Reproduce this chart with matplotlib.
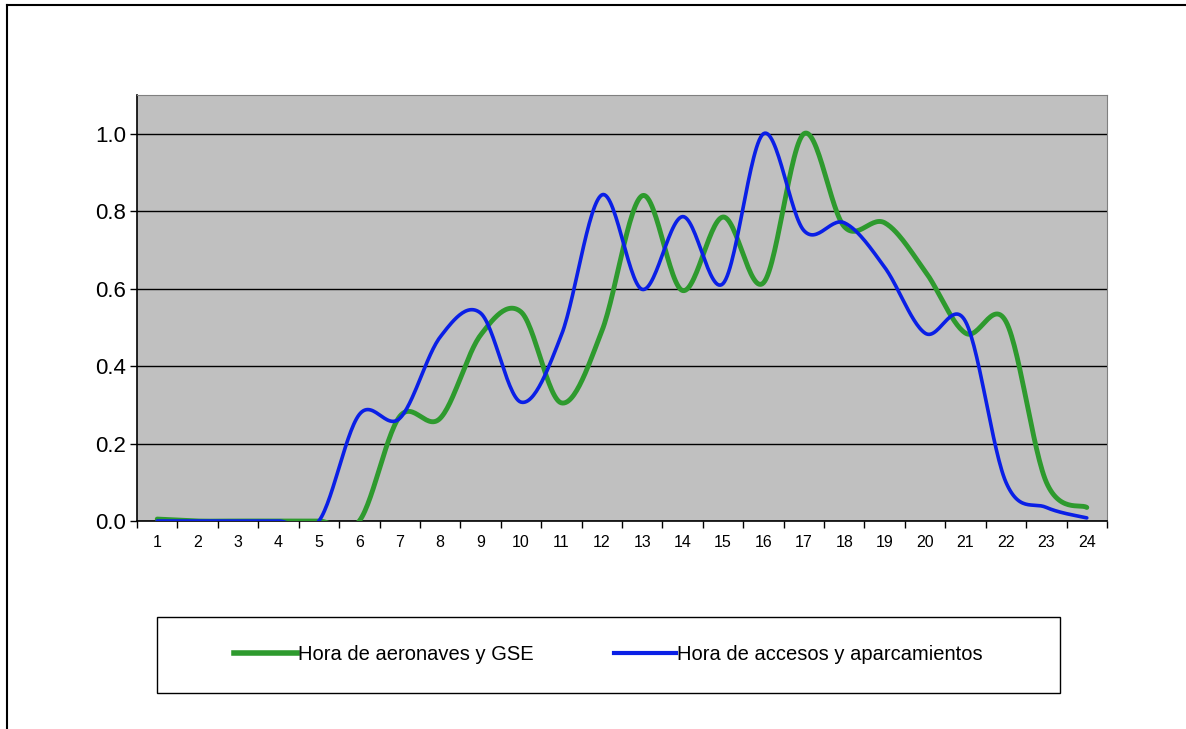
# -*- coding: utf-8 -*-

import numpy as np
import matplotlib.pyplot as plt
from matplotlib.lines import Line2D

# datos
horas = list(range(1, 25))
aeronaves = [0.005, 0.0, 0.0, 0.0, 0.0, 0.0, 0.27, 0.265, 0.48, 0.54, 0.305, 0.49,
             0.84, 0.595, 0.785, 0.615, 1.0, 0.76, 0.77, 0.645, 0.485, 0.515, 0.1, 0.035]
accesos = [0.0, 0.0, 0.0, 0.0, 0.0, 0.275, 0.265, 0.475, 0.537, 0.307, 0.48, 0.842,
           0.598, 0.786, 0.613, 1.0, 0.75, 0.77, 0.655, 0.485, 0.515, 0.1, 0.035, 0.008]
lab_aer = 'Hora de aeronaves y GSE'
lab_acc = 'Hora de accesos y aparcamientos'


def suavizar(x, y, n=30):
    # curva suavizada tipo excel (bezier con tangentes catmull-rom)
    x = np.asarray(x, dtype=float)
    y = np.asarray(y, dtype=float)
    px = np.concatenate([[x[0]], x, [x[-1]]])
    py = np.concatenate([[y[0]], y, [y[-1]]])
    xs, ys = [], []
    t = np.linspace(0, 1, n)
    for i in range(1, len(px) - 2):
        p0 = np.array([px[i - 1], py[i - 1]])
        p1 = np.array([px[i], py[i]])
        p2 = np.array([px[i + 1], py[i + 1]])
        p3 = np.array([px[i + 2], py[i + 2]])
        c1 = p1 + (p2 - p0) / 6.0
        c2 = p2 - (p3 - p1) / 6.0
        b = ((1 - t) ** 3)[:, None] * p1 + (3 * (1 - t) ** 2 * t)[:, None] * c1 \
            + (3 * (1 - t) * t ** 2)[:, None] * c2 + (t ** 3)[:, None] * p2
        xs.extend(b[:, 0])
        ys.extend(b[:, 1])
    return np.array(xs), np.array(ys)


plt.rcParams['font.family'] = ['Liberation Sans', 'DejaVu Sans']

fig = plt.figure(figsize=(11.86, 7.29), dpi=100)
ax = fig.add_axes([137 / 1186, 1 - 521 / 729, 970 / 1186, 426 / 729])
ax.set_facecolor('#c0c0c0')

gx, gy = suavizar(horas, aeronaves)
bx, by = suavizar(horas, accesos)
ax.plot(gx, gy, color='#2e9a2e', lw=3.5, solid_capstyle='round', zorder=3)
ax.plot(bx, by, color='#0a1fe6', lw=2.6, solid_capstyle='round', zorder=4)

ax.set_xlim(0.5, 24.5)
ax.set_ylim(0, 1.1)
ax.set_yticks(np.arange(0, 1.01, 0.2))
ax.set_yticklabels(['%.1f' % v for v in np.arange(0, 1.01, 0.2)], fontsize=16)
ax.yaxis.grid(True, color='black', lw=1.0)
ax.set_axisbelow(True)

# marcas entre categorias, etiquetas en el centro
ax.set_xticks(np.arange(0.5, 24.6, 1.0))
ax.set_xticklabels([])
ax.set_xticks(horas, minor=True)
ax.set_xticklabels([str(h) for h in horas], minor=True, fontsize=11.5)
ax.tick_params(axis='x', which='minor', length=0, pad=10)
ax.tick_params(axis='x', which='major', length=5, direction='out', width=1)
ax.tick_params(axis='y', length=5, direction='out', width=1, pad=3)

for s in ['top', 'right']:
    ax.spines[s].set_color('#808080')
for s in ['left', 'bottom']:
    ax.spines[s].set_color('black')
    ax.spines[s].set_linewidth(1.2)

# leyenda
h1 = Line2D([], [], color='#2e9a2e', lw=4)
h2 = Line2D([], [], color='#0a1fe6', lw=3)
fs_leg = 14.5
leg = fig.legend([h1, h2], [lab_aer, lab_acc], loc='center',
                 bbox_to_anchor=(157 / 1186, 1 - 693 / 729, 903 / 1186, 76 / 729),
                 ncol=2, frameon=False,
                 handlelength=3.1, handletextpad=0.05, columnspacing=4.0,
                 borderaxespad=0, prop={'size': fs_leg})
caja = plt.Rectangle((157 / 1186, 1 - 693 / 729), 903 / 1186, 76 / 729,
                     transform=fig.transFigure, fill=False, edgecolor='black', lw=1.0)
fig.add_artist(caja)

# borde exterior (arriba e izquierda)
fig.add_artist(Line2D([7 / 1186, 7 / 1186], [0, 1 - 5 / 729], color='black', lw=1.5,
                      transform=fig.transFigure))
fig.add_artist(Line2D([7 / 1186, 1], [1 - 5 / 729, 1 - 5 / 729], color='black', lw=1.5,
                      transform=fig.transFigure))

fig.savefig('out.png', dpi=100, facecolor='white')
